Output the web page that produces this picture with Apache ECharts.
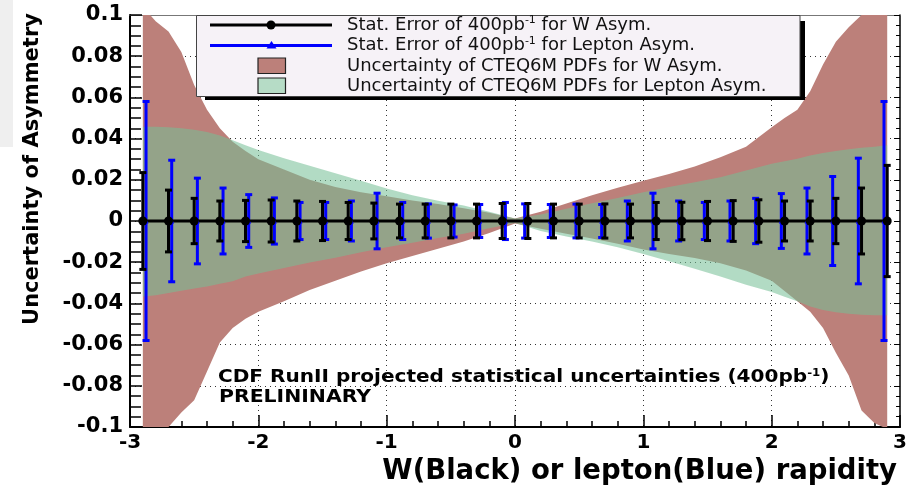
<!DOCTYPE html>
<html>
<head>
<meta charset="utf-8">
<script src="https://cdn.jsdelivr.net/npm/echarts@6/dist/echarts.min.js"></script>
<style>
  html, body { margin: 0; padding: 0; background: #ffffff; }
  #chart { width: 910px; height: 493px; }
</style>
</head>
<body>
<div id="chart"></div>
<script>
// W rapidity bins and statistical error for 400 pb^-1 (black)
const wRapidity = [-2.9, -2.7, -2.5, -2.3, -2.1, -1.9, -1.7, -1.5, -1.3, -1.1, -0.9, -0.7, -0.5, -0.3, -0.1,
                   0.1, 0.3, 0.5, 0.7, 0.9, 1.1, 1.3, 1.5, 1.7, 1.9, 2.1, 2.3, 2.5, 2.7, 2.9];
const wStatErr = [0.0235, 0.015, 0.011, 0.0097, 0.010, 0.0102, 0.0097, 0.0095, 0.009, 0.0087, 0.0082, 0.0082, 0.0082, 0.0082, 0.0085,
                  0.0085, 0.0082, 0.0082, 0.0083, 0.0082, 0.009, 0.0091, 0.0095, 0.0099, 0.0103, 0.0097, 0.0097, 0.011, 0.016, 0.027];

// Lepton rapidity bins and statistical error for 400 pb^-1 (blue)
const lepRapidity = [-2.875, -2.675, -2.475, -2.275, -2.075, -1.875, -1.675, -1.475, -1.275, -1.075, -0.875, -0.675, -0.475, -0.275, -0.075,
                     0.075, 0.275, 0.475, 0.675, 0.875, 1.075, 1.275, 1.475, 1.675, 1.875, 2.075, 2.275, 2.475, 2.675, 2.875];
const lepStatErr = [0.058, 0.0295, 0.0208, 0.016, 0.0128, 0.0112, 0.009, 0.009, 0.0097, 0.0135, 0.009, 0.0083, 0.0078, 0.008, 0.009,
                    0.0083, 0.008, 0.0082, 0.008, 0.0097, 0.0135, 0.0097, 0.009, 0.0097, 0.011, 0.0133, 0.016, 0.0216, 0.0305, 0.058];

// CTEQ6M PDF uncertainty envelopes
const bandRapidity = [-2.9, -2.8, -2.7, -2.6, -2.5, -2.4, -2.3, -2.2, -2.1, -2.0, -1.8, -1.6, -1.4, -1.2, -1.0, -0.8, -0.6, -0.4, -0.2, 0,
                      0.2, 0.4, 0.6, 0.8, 1.0, 1.2, 1.4, 1.6, 1.8, 2.0, 2.1, 2.2, 2.3, 2.4, 2.5, 2.6, 2.7, 2.8, 2.9];
const wPdfUpper = [0.104, 0.097, 0.092, 0.082, 0.066, 0.054, 0.045, 0.0385, 0.034, 0.030, 0.025, 0.020, 0.0165, 0.014, 0.012, 0.010, 0.0082, 0.0062, 0.004, 0.0012,
                   0.0045, 0.0085, 0.0125, 0.0162, 0.0195, 0.0228, 0.0265, 0.031, 0.036, 0.0455, 0.050, 0.054, 0.063, 0.076, 0.087, 0.094, 0.100, 0.106, 0.112];
const wPdfLower = [-0.116, -0.108, -0.100, -0.093, -0.087, -0.073, -0.059, -0.052, -0.0475, -0.044, -0.039, -0.0335, -0.029, -0.0245, -0.0205, -0.017, -0.0135, -0.010, -0.0058, -0.0012,
                   -0.0038, -0.0062, -0.0085, -0.011, -0.0138, -0.016, -0.018, -0.0205, -0.024, -0.029, -0.034, -0.039, -0.044, -0.052, -0.064, -0.075, -0.092, -0.098, -0.101];
const lepPdfUpper = [0.0458, 0.0458, 0.0455, 0.045, 0.0443, 0.0432, 0.0415, 0.0392, 0.0368, 0.0345, 0.0305, 0.0268, 0.0232, 0.0195, 0.0158, 0.0125, 0.0098, 0.0075, 0.0045, 0.0012,
                     0.0032, 0.006, 0.0086, 0.0112, 0.014, 0.0165, 0.0188, 0.0212, 0.0245, 0.0278, 0.029, 0.0302, 0.0318, 0.033, 0.034, 0.0348, 0.0355, 0.036, 0.0368];
const lepPdfLower = [-0.0367, -0.036, -0.035, -0.0338, -0.0328, -0.0318, -0.0305, -0.0292, -0.027, -0.0255, -0.0228, -0.0202, -0.0178, -0.0152, -0.0128, -0.0105, -0.0082, -0.0062, -0.0035, -0.001,
                     -0.0048, -0.0075, -0.010, -0.0128, -0.016, -0.0195, -0.0232, -0.027, -0.031, -0.0345, -0.0368, -0.039, -0.0415, -0.0432, -0.0443, -0.045, -0.0455, -0.0458, -0.0458];

const FONT = '"DejaVu Sans", "Liberation Sans", sans-serif';
const PINK = '#bc807a';
const GREEN_TINT = 'rgba(118, 190, 150, 0.56)';

function bandSeries(name, upper, lower, fill) {
  return {
    type: 'custom',
    name: name,
    clip: true,
    silent: true,
    data: bandRapidity.map((x, i) => [x, lower[i], upper[i]]),
    encode: { x: 0, y: [1, 2] },
    renderItem: function (params, api) {
      if (params.dataIndex !== 0) return null;
      const pts = [];
      for (let i = 0; i < bandRapidity.length; i++) pts.push(api.coord([bandRapidity[i], upper[i]]));
      for (let i = bandRapidity.length - 1; i >= 0; i--) pts.push(api.coord([bandRapidity[i], lower[i]]));
      return { type: 'polygon', shape: { points: pts }, style: { fill: fill } };
    }
  };
}

function errorBarSeries(name, xs, errs, color, capHalf, lw) {
  return {
    type: 'custom',
    name: name,
    silent: true,
    data: xs.map((x, i) => [x, -errs[i], errs[i]]),
    encode: { x: 0, y: [1, 2] },
    renderItem: function (params, api) {
      const x = api.value(0);
      const lo = api.coord([x, api.value(1)]);
      const hi = api.coord([x, api.value(2)]);
      const st = { stroke: color, lineWidth: lw };
      return {
        type: 'group',
        children: [
          { type: 'line', shape: { x1: lo[0], y1: lo[1], x2: hi[0], y2: hi[1] }, style: st },
          { type: 'line', shape: { x1: lo[0] - capHalf, y1: lo[1], x2: lo[0] + capHalf, y2: lo[1] }, style: st },
          { type: 'line', shape: { x1: hi[0] - capHalf, y1: hi[1], x2: hi[0] + capHalf, y2: hi[1] }, style: st }
        ]
      };
    }
  };
}

const dotted = { color: '#333', type: [1, 4], width: 1 };
const tickStyle = { color: '#000', width: 1.5 };

const legendRows = [25, 45.5, 66, 86];
const legendTextX = 347;
const legendRich = {
  a: { font: '18px ' + FONT, fill: '#111', lineHeight: 20 },
  s: { font: '11px ' + FONT, fill: '#111', verticalAlign: 'top' }
};
const noteRich = {
  a: { font: 'bold 17px ' + FONT, fill: '#000', lineHeight: 20 },
  s: { font: 'bold 10px ' + FONT, fill: '#000', verticalAlign: 'top' }
};

const chart = echarts.init(document.getElementById('chart'), null, { renderer: 'canvas' });

chart.setOption({
  animation: false,
  backgroundColor: '#ffffff',
  grid: { left: 130, right: 6, top: 15, bottom: 66, containLabel: false },
  xAxis: [{
    type: 'value', min: -3, max: 3, interval: 1, position: 'bottom',
    axisLine: { show: true, onZero: false, lineStyle: { color: '#000', width: 2 } },
    axisTick: { show: true, inside: true, length: 12, lineStyle: tickStyle },
    minorTick: { show: true, splitNumber: 5, length: 6, lineStyle: tickStyle },
    axisLabel: { margin: 6, color: '#000', fontFamily: FONT, fontWeight: 'bold', fontSize: 20 },
    splitLine: { show: true, showMinLine: false, showMaxLine: false, lineStyle: dotted },
    name: 'W(Black) or lepton(Blue) rapidity',
    nameLocation: 'end', nameGap: -3,
    nameTextStyle: { fontFamily: FONT, fontWeight: 'bold', fontSize: 27.5, color: '#000',
                     align: 'right', verticalAlign: 'top', padding: [31, 0, 0, 0] }
  }, {
    type: 'value', min: -3, max: 3, position: 'top',
    axisLine: { show: true, onZero: false, lineStyle: { color: '#777', width: 1 } },
    axisTick: { show: false }, axisLabel: { show: false }, splitLine: { show: false }
  }],
  yAxis: [{
    type: 'value', min: -0.1, max: 0.1, interval: 0.02, position: 'left',
    axisLine: { show: true, onZero: false, lineStyle: { color: '#000', width: 2 } },
    axisTick: { show: true, inside: true, length: 12, lineStyle: tickStyle },
    minorTick: { show: true, splitNumber: 4, length: 11, lineStyle: tickStyle },
    axisLabel: { margin: 7, color: '#000', fontFamily: FONT, fontWeight: 'bold', fontSize: 21,
                 formatter: v => String(+v.toFixed(2)) },
    splitLine: { show: true, showMinLine: false, showMaxLine: false, lineStyle: dotted },
    name: 'Uncertainty of Asymmetry',
    nameLocation: 'middle', nameGap: 87, nameRotate: 90,
    nameTextStyle: { fontFamily: FONT, fontWeight: 'bold', fontSize: 21, color: '#000', padding: [0, 0, 0, 104] }
  }, {
    type: 'value', min: -0.1, max: 0.1, interval: 0.02, position: 'right',
    axisLine: { show: true, onZero: false, lineStyle: { color: '#000', width: 1.5 } },
    axisTick: { show: true, inside: true, length: 6, lineStyle: { color: '#000', width: 1 } },
    minorTick: { show: true, splitNumber: 4, length: 4, lineStyle: { color: '#000', width: 1 } },
    axisLabel: { show: false }, splitLine: { show: false }
  }],
  series: [
    bandSeries('Uncertainty of CTEQ6M PDFs for W Asym.', wPdfUpper, wPdfLower, PINK),
    bandSeries('Uncertainty of CTEQ6M PDFs for Lepton Asym.', lepPdfUpper, lepPdfLower, GREEN_TINT),
    {
      type: 'line', name: 'Stat. Error of 400pb-1 for Lepton Asym.',
      data: lepRapidity.map(x => [x, 0]),
      symbol: 'triangle', symbolSize: 5, showAllSymbol: true,
      itemStyle: { color: '#0000ff' }, lineStyle: { color: '#0000ff', width: 2 }, silent: true
    },
    errorBarSeries('Lepton stat. error bars', lepRapidity, lepStatErr, '#0000ff', 3.5, 3),
    errorBarSeries('W stat. error bars', wRapidity, wStatErr, '#000000', 3.5, 3),
    {
      type: 'line', name: 'Stat. Error of 400pb-1 for W Asym.',
      data: wRapidity.map(x => [x, 0]),
      symbol: 'circle', symbolSize: 9, showAllSymbol: true,
      itemStyle: { color: '#000000' }, lineStyle: { color: '#000000', width: 3 }, silent: true
    }
  ],
  graphic: [
    { type: 'rect', z: 1, silent: true, shape: { x: 0, y: 0, width: 13, height: 147 }, style: { fill: '#efefef' } },
    // legend box with drop shadow
    { type: 'rect', z: 100, silent: true, shape: { x: 205, y: 21, width: 600, height: 79 }, style: { fill: '#000' } },
    { type: 'rect', z: 101, silent: true, shape: { x: 196.5, y: 15.5, width: 603.5, height: 81 },
      style: { fill: '#f6f2f7', stroke: '#444', lineWidth: 1 } },
    { type: 'line', z: 102, silent: true, shape: { x1: 210, y1: legendRows[0], x2: 332, y2: legendRows[0] }, style: { stroke: '#000', lineWidth: 3 } },
    { type: 'circle', z: 103, silent: true, shape: { cx: 271, cy: legendRows[0], r: 4.5 }, style: { fill: '#000' } },
    { type: 'line', z: 102, silent: true, shape: { x1: 210, y1: legendRows[1], x2: 332, y2: legendRows[1] }, style: { stroke: '#0000ff', lineWidth: 3 } },
    { type: 'polygon', z: 103, silent: true, shape: { points: [[271.5, legendRows[1] - 4.5], [266.5, legendRows[1] + 3], [276.5, legendRows[1] + 3]] }, style: { fill: '#0000ff' } },
    { type: 'rect', z: 102, silent: true, shape: { x: 258, y: legendRows[2] - 8, width: 27.5, height: 15.5 },
      style: { fill: PINK, stroke: '#222', lineWidth: 1.2 } },
    { type: 'rect', z: 102, silent: true, shape: { x: 258, y: legendRows[3] - 8, width: 27.5, height: 15.5 },
      style: { fill: '#b6dcc6', stroke: '#222', lineWidth: 1.2 } },
    { type: 'text', z: 104, silent: true, x: legendTextX, y: legendRows[0],
      style: { text: '{a|Stat. Error of 400pb}{s|-1}{a| for W Asym.}', rich: legendRich, verticalAlign: 'middle' } },
    { type: 'text', z: 104, silent: true, x: legendTextX, y: legendRows[1],
      style: { text: '{a|Stat. Error of 400pb}{s|-1}{a| for Lepton Asym.}', rich: legendRich, verticalAlign: 'middle' } },
    { type: 'text', z: 104, silent: true, x: legendTextX, y: legendRows[2],
      style: { text: 'Uncertainty of CTEQ6M PDFs for W Asym.', font: '18px ' + FONT, fill: '#111', verticalAlign: 'middle' } },
    { type: 'text', z: 104, silent: true, x: legendTextX, y: legendRows[3],
      style: { text: 'Uncertainty of CTEQ6M PDFs for Lepton Asym.', font: '18px ' + FONT, fill: '#111', verticalAlign: 'middle' } },
    // run annotation
    { type: 'text', z: 104, silent: true, x: 218, y: 378, scaleX: 1.18,
      style: { text: '{a|CDF RunII projected statistical uncertainties (400pb}{s|-1}{a|)}', rich: noteRich, verticalAlign: 'middle' } },
    { type: 'text', z: 104, silent: true, x: 219, y: 398, scaleX: 1.2,
      style: { text: 'PRELININARY', font: 'bold 17px ' + FONT, fill: '#000', verticalAlign: 'middle' } }
  ]
});
</script>
</body>
</html>
